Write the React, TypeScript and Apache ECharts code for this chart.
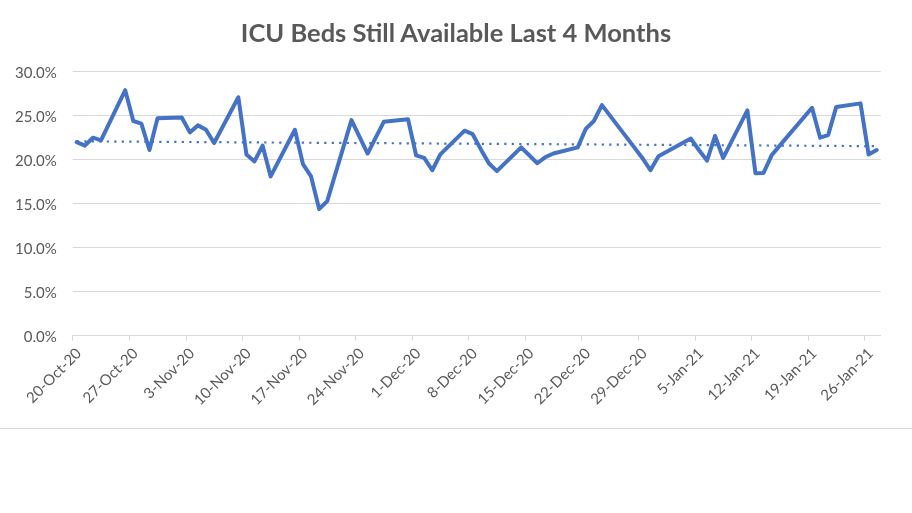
import React, { useEffect, useRef } from 'react';
import * as echarts from 'echarts';

const TITLE = 'ICU Beds Still Available Last 4 Months';

const dates = [
  '2020-10-20', '2020-10-21', '2020-10-22', '2020-10-23',
  '2020-10-26', '2020-10-27', '2020-10-28', '2020-10-29', '2020-10-30',
  '2020-11-02', '2020-11-03', '2020-11-04', '2020-11-05', '2020-11-06',
  '2020-11-09', '2020-11-10', '2020-11-11', '2020-11-12', '2020-11-13',
  '2020-11-16', '2020-11-17', '2020-11-18', '2020-11-19', '2020-11-20',
  '2020-11-23', '2020-11-24', '2020-11-25', '2020-11-26', '2020-11-27',
  '2020-11-30', '2020-12-01', '2020-12-02', '2020-12-03', '2020-12-04',
  '2020-12-07', '2020-12-08', '2020-12-09', '2020-12-10', '2020-12-11',
  '2020-12-14', '2020-12-15', '2020-12-16', '2020-12-17', '2020-12-18',
  '2020-12-21', '2020-12-22', '2020-12-23', '2020-12-24',
  '2020-12-28', '2020-12-29', '2020-12-30', '2020-12-31',
  '2021-01-04', '2021-01-05', '2021-01-06', '2021-01-07', '2021-01-08',
  '2021-01-11', '2021-01-12', '2021-01-13', '2021-01-14', '2021-01-15',
  '2021-01-19', '2021-01-20', '2021-01-21', '2021-01-22',
  '2021-01-25', '2021-01-26', '2021-01-27',
];

const values = [
  22.0, 21.6, 22.5, 22.2,
  27.9, 24.4, 24.1, 21.1, 24.7,
  24.8, 23.1, 23.9, 23.4, 21.9,
  27.1, 20.6, 19.8, 21.6, 18.1,
  23.4, 19.5, 18.1, 14.4, 15.3,
  24.5, 22.6, 20.7, 22.5, 24.3,
  24.6, 20.5, 20.2, 18.8, 20.6,
  23.3, 22.9, 21.2, 19.6, 18.7,
  21.4, 20.5, 19.6, 20.3, 20.7,
  21.4, 23.5, 24.4, 26.2,
  21.4, 20.2, 18.8, 20.4,
  22.4, 21.1, 19.9, 22.7, 20.2,
  25.6, 18.45, 18.5, 20.5, 21.6,
  25.9, 22.5, 22.8, 26.0,
  26.4, 20.6, 21.1,
];

const xTickDays = [0, 7, 14, 21, 28, 35, 42, 49, 56, 63, 70, 77, 84, 91, 98];
const yTicks = [0, 5, 10, 15, 20, 25, 30];

const START = Date.UTC(2020, 9, 20);
const DAY = 86400000;
const MONTHS = ['Jan', 'Feb', 'Mar', 'Apr', 'May', 'Jun', 'Jul', 'Aug', 'Sep', 'Oct', 'Nov', 'Dec'];

function dayIndex(s: string): number {
  const [y, m, d] = s.split('-').map(Number);
  return Math.round((Date.UTC(y, m - 1, d) - START) / DAY);
}

function fmtDay(idx: number): string {
  const dt = new Date(START + Math.round(idx) * DAY);
  return `${dt.getUTCDate()}-${MONTHS[dt.getUTCMonth()]}-${String(dt.getUTCFullYear()).slice(2)}`;
}

export default function App() {
  const ref = useRef<HTMLDivElement>(null);
  useEffect(() => {
    if (!ref.current) return;
    const chart = echarts.init(ref.current, undefined, { renderer: 'svg' });
    // points sit in the middle of each day's slot (Excel date axis, between tick marks)
    const pts = dates.map((d, i) => [dayIndex(d) + 0.5, values[i]]);
    // linear trendline (least squares)
    const n = pts.length;
    const mx = pts.reduce((s, p) => s + p[0], 0) / n;
    const my = pts.reduce((s, p) => s + p[1], 0) / n;
    let sxy = 0, sxx = 0;
    pts.forEach((p) => { sxy += (p[0] - mx) * (p[1] - my); sxx += (p[0] - mx) * (p[0] - mx); });
    const slope = sxy / sxx;
    const icpt = my - slope * mx;
    const x0 = pts[0][0];
    const x1 = pts[n - 1][0];
    const trend = [[x0, icpt + slope * x0], [x1, icpt + slope * x1]];

    const font = 'Lato, "Open Sans", sans-serif';
    chart.setOption({
      animation: false,
      title: {
        text: TITLE,
        left: 'center',
        top: 14,
        textStyle: { fontFamily: font, fontWeight: 'bold', fontSize: 25.5, color: '#595959' },
      },
      grid: { left: 72.7, right: 31.3, top: 71.7, bottom: 177.3 },
      xAxis: {
        type: 'value',
        min: 0,
        max: 100,
        splitLine: { show: false },
        axisLine: { show: true, lineStyle: { color: '#d9d9d9', width: 1 } },
        axisTick: { show: true, length: 5, lineStyle: { color: '#d9d9d9' }, customValues: xTickDays },
        axisLabel: {
          customValues: xTickDays,
          rotate: 45,
          verticalAlign: 'top',
          formatter: (v: number) => fmtDay(v),
          color: '#595959',
          fontSize: 15,
          fontFamily: font,
          margin: 9,
        },
      },
      yAxis: {
        type: 'value',
        min: yTicks[0],
        max: yTicks[yTicks.length - 1],
        interval: 5,
        axisLine: { show: false },
        axisTick: { show: false },
        splitLine: { lineStyle: { color: '#d9d9d9', width: 1 } },
        axisLabel: {
          formatter: (v: number) => v.toFixed(1) + '%',
          color: '#595959',
          fontSize: 15,
          fontFamily: font,
          margin: 16,
        },
      },
      series: [
        {
          type: 'line',
          data: pts,
          symbol: 'none',
          lineStyle: { color: '#4472C4', width: 4, join: 'round', cap: 'round' },
          z: 3,
        },
        {
          type: 'line',
          data: trend,
          symbol: 'none',
          lineStyle: { color: '#4472C4', width: 2.2, type: [2.2, 5.3] },
          z: 2,
        },
      ],
      graphic: [
        {
          type: 'line',
          shape: { x1: 0, y1: 428.5, x2: 912, y2: 428.5 },
          style: { stroke: '#d9d9d9', lineWidth: 1 },
        },
      ],
    });
    return () => chart.dispose();
  }, []);
  return <div ref={ref} style={{ position: 'fixed', left: 0, top: 0, width: 912, height: 513 }} />;
}
